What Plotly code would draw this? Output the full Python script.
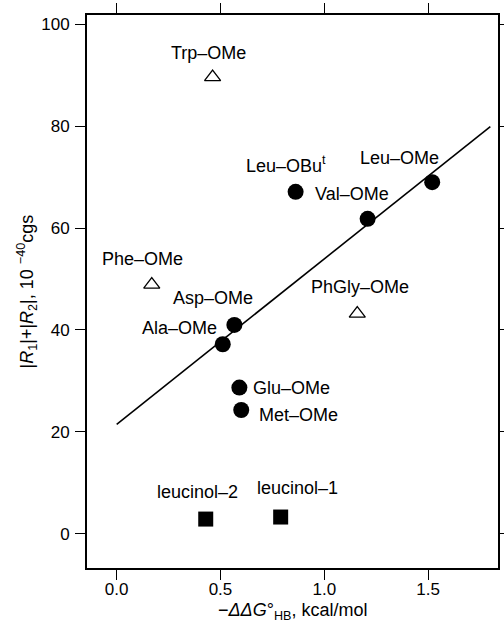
import plotly.graph_objects as go

# Data
open_names = ["Trp–OMe", "Phe–OMe", "PhGly–OMe"]
open_x = [0.462, 0.169, 1.159]
open_y = [89.6, 48.9, 43.2]

filled_names = ["Leu–OBu<sup>t</sup>", "Val–OMe", "Leu–OMe", "Asp–OMe", "Ala–OMe", "Glu–OMe", "Met–OMe"]
filled_x = [0.862, 1.209, 1.520, 0.567, 0.511, 0.591, 0.600]
filled_y = [67.1, 61.8, 69.0, 41.0, 37.2, 28.7, 24.3]

square_names = ["leucinol–2", "leucinol–1"]
square_x = [0.429, 0.790]
square_y = [2.9, 3.3]

fit_x = [0.0, 1.80]
fit_y = [21.5, 79.9]

x_ticks = [0.0, 0.5, 1.0, 1.5]
x_tick_labels = ["0.0", "0.5", "1.0", "1.5"]
y_ticks = [0, 20, 40, 60, 80, 100]

FONT = "Liberation Sans, Arial, Helvetica, sans-serif"
FS = 18

fig = go.Figure()
fig.add_trace(go.Scatter(x=fit_x, y=fit_y, mode="lines",
                         line=dict(color="black", width=1.6), showlegend=False))
fig.add_trace(go.Scatter(x=open_x, y=open_y, mode="markers",
                         marker=dict(symbol="triangle-up-open", size=14, color="black",
                                     line=dict(width=1.3, color="black")), showlegend=False))
fig.add_trace(go.Scatter(x=filled_x, y=filled_y, mode="markers",
                         marker=dict(symbol="circle", size=16, color="black"), showlegend=False))
fig.add_trace(go.Scatter(x=square_x, y=square_y, mode="markers",
                         marker=dict(symbol="square", size=15, color="black"), showlegend=False))

# label offsets (pixels) relative to points
label_specs = [
    (open_names[0], open_x[0], open_y[0], -4, 24, "center"),
    (open_names[1], open_x[1], open_y[1], -9, 26, "center"),
    (open_names[2], open_x[2], open_y[2], 3, 27, "center"),
    (filled_names[0], filled_x[0], filled_y[0], -10, 27, "center"),
    (filled_names[1], filled_x[1], filled_y[1], -55, 25, "left"),
    (filled_names[2], filled_x[2], filled_y[2], -33, 24, "center"),
    (filled_names[3], filled_x[3], filled_y[3], -21, 27, "center"),
    (filled_names[4], filled_x[4], filled_y[4], -43, 16, "center"),
    (filled_names[5], filled_x[5], filled_y[5], 12, 0, "left"),
    (filled_names[6], filled_x[6], filled_y[6], 16, -5, "left"),
    (square_names[0], square_x[0], square_y[0], -8, 27, "center"),
    (square_names[1], square_x[1], square_y[1], 17, 29, "center"),
]

annotations = []
for txt, x, y, dx, dy, anchor in label_specs:
    annotations.append(dict(x=x, y=y, xref="x", yref="y", text=txt, showarrow=False,
                            xshift=dx, yshift=dy, xanchor=anchor, yanchor="middle",
                            font=dict(family=FONT, size=FS, color="black")))

annotations.append(dict(x=0, y=0.5, xref="paper", yref="paper", xshift=-60,
                        text="|<i>R</i><sub>1</sub>|+|<i>R</i><sub>2</sub>|, 10 <sup>−40</sup>cgs",
                        textangle=-90, showarrow=False, xanchor="center", yanchor="middle",
                        font=dict(family=FONT, size=FS, color="black")))
annotations.append(dict(x=0.5, y=0, xref="paper", yref="paper", yshift=-43,
                        text="−<i>ΔΔG</i>°<sub>HB</sub>, kcal/mol",
                        showarrow=False, xanchor="center", yanchor="middle",
                        font=dict(family=FONT, size=FS, color="black")))

axis_common = dict(showline=True, linecolor="black", linewidth=1.8, mirror="ticks",
                   ticks="outside", ticklen=10, tickwidth=1.3, tickcolor="black",
                   showgrid=False, zeroline=False, automargin=False,
                   tickfont=dict(family=FONT, size=17, color="black"))

fig.update_layout(
    width=504, height=623,
    margin=dict(l=87, r=6, t=15, b=55),
    paper_bgcolor="white", plot_bgcolor="white",
    xaxis=dict(range=[-0.143, 1.837], tickvals=x_ticks, ticktext=x_tick_labels,
               ticklabelstandoff=-5, **axis_common),
    yaxis=dict(range=[-6.7, 101.8], tickvals=y_ticks, ticklabelstandoff=2, **axis_common),
    annotations=annotations,
)

# remove the default page margin so the figure fills the window exactly
fig.write_html("out.html", config={"displayModeBar": False},
               post_script="document.body.style.margin='0';")
